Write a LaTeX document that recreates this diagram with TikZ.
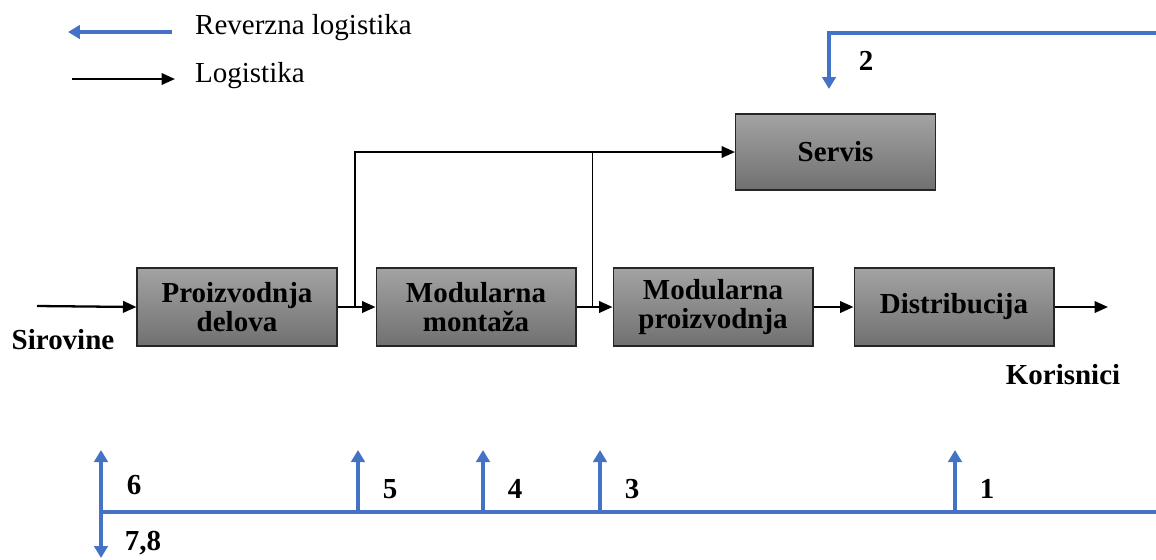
\documentclass[tikz,border=0pt]{standalone}
\usepackage{fontspec}
\setmainfont{Liberation Serif}
\usetikzlibrary{arrows.meta,positioning}
\definecolor{revblue}{HTML}{4472C4}
\tikzset{
  stage/.style={draw=black!85,line width=0.6pt,top color=black!36,bottom color=black!56,
    minimum width=4cm,minimum height=1.56cm,align=center,
    font=\fontsize{16.5}{16.5}\selectfont\bfseries},
  flow/.style={line width=1.3pt,-{Triangle[length=0.27cm,width=0.23cm]}},
  rev/.style={revblue,line width=2.2pt,-{Triangle[length=0.24cm,width=0.27cm]}},
  revline/.style={revblue,line width=2.2pt},
  num/.style={font=\fontsize{16.5}{16.5}\selectfont\bfseries,anchor=base},
  plain/.style={font=\fontsize{16.5}{16.5}\selectfont,anchor=west},
}
\begin{document}
\begin{tikzpicture}[x=0.02cm,y=-0.02cm]
  \useasboundingbox (0,0) rectangle (1156,559);
  \coordinate (revA) at (172,32);
  \coordinate (revB) at (68,32);
  \coordinate (logA) at (72,79);
  \coordinate (logB) at (175,79);
  \draw[rev] (revA) -- (revB);
  \draw[flow] (logA) -- (logB);
  \node[plain] (revtxt) at (189,28) {Reverzna logistika};
  \node[plain] (logtxt) at (189,76) {Logistika};

  \node[stage] (pd) at (237,307) {Proizvodnja\\delova};
  \node[stage,right=0.76cm of pd] (mm) {Modularna\\montaža};
  \node[stage,right=0.72cm of mm] (mp) {Modularna\\proizvodnja};
  \node[stage,right=0.8cm of mp] (dist) {Distribucija};
  \node[stage,minimum height=1.52cm] (servis) at (835.5,152) {Servis};
  \node[font=\fontsize{16.5}{16.5}\selectfont\bfseries] (sirovine) at (63,340) {Sirovine};
  \node[font=\fontsize{16.5}{16.5}\selectfont\bfseries] (korisnici) at (1063,375) {Korisnici};

  \coordinate (sirIn) at (37,306);
  \coordinate (korOut) at (1108,307);
  \coordinate (j1) at (355,308);
  \coordinate (j2) at (592,308);
  \draw[flow] (sirIn) -- (pd.west);
  \draw[flow] (pd) -- (mm);
  \draw[flow] (mm) -- (mp);
  \draw[flow] (mp) -- (dist);
  \draw[flow] (dist.east) -- (korOut);
  \draw[flow] (j1) |- (servis.west);
  \draw[line width=0.5pt] (j2) -- (j2 |- servis.west);

  \coordinate (topR) at (1156,33);
  \coordinate (servisIn) at (829,89);
  \draw[rev] (topR) -| (servisIn);
  \node[num] (n2) at (866,70) {2};

  \coordinate (botR) at (1156,512);
  \coordinate (botL) at (101,512);
  \coordinate (up6) at (101,450);
  \coordinate (dn78) at (101,558);
  \draw[revline] (botR) -- (botL);
  \draw[rev,{Triangle[length=0.24cm,width=0.27cm]}-{Triangle[length=0.24cm,width=0.27cm]}] (dn78) -- (up6);
  \node[num] (n6) at (134,494) {6};
  \node[num] (n78) at (143,550) {7,8};
  \foreach \x/\lab in {358/5,483/4,600/3,955/1}{
    \coordinate (r\lab) at (\x,512);
    \draw[rev] (r\lab) -- ++(0,-62);
    \node[num] (n\lab) at (\x+32,498) {\lab};
  }
\end{tikzpicture}
\end{document}
